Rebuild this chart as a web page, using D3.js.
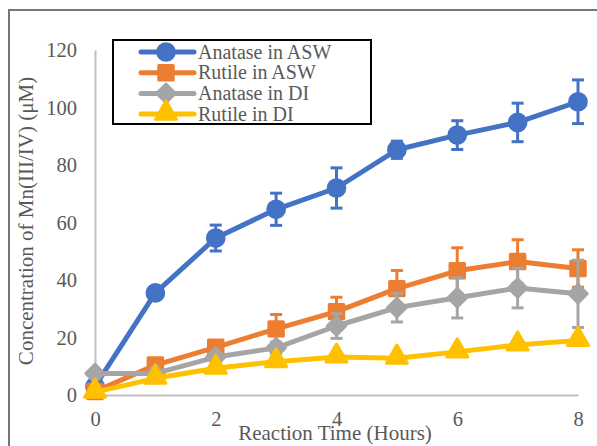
<!DOCTYPE html>
<html>
<head>
<meta charset="utf-8">
<script src="https://cdnjs.cloudflare.com/ajax/libs/d3/7.8.5/d3.min.js"></script>
<style>
    html, body { margin: 0; padding: 0; background: #fff; }
    svg text { font-family: "Liberation Serif", "Times New Roman", serif; fill: #595959; }
</style>
</head>
<body>
<div class="chart-container"></div>
<script>
const hours = [0, 1, 2, 3, 4, 5, 6, 7, 8];
const xTicks = [0, 2, 4, 6, 8];
const yTicks = [0, 20, 40, 60, 80, 100, 120];

const seriesNames = ['Anatase in ASW', 'Rutile in ASW', 'Anatase in DI', 'Rutile in DI'];
const seriesColors = ['#4472C4', '#ED7D31', '#A5A5A5', '#FFC000'];
const seriesSymbols = ['circle', 'square', 'diamond', 'triangle'];

const anataseASW = [3, 35.5, 54.6, 64.6, 72, 85.3, 90.4, 94.8, 102];
const anataseASWErr = [0, 1, 4.5, 5.6, 7, 3, 5, 6.7, 7.6];
const rutileASW = [1.2, 10.4, 16.6, 23, 29, 37, 43.2, 46.4, 44];
const rutileASWErr = [0, 1, 1.5, 5, 5, 6.3, 8, 7.6, 6.5];
const anataseDI = [7.5, 7.5, 13.2, 16.4, 24, 30.4, 33.8, 37.2, 35.2];
const anataseDIErr = [0, 1, 1.5, 2, 4.3, 5, 7, 6.9, 11.7];
const rutileDI = [1, 5.8, 9.3, 11.6, 13.2, 12.8, 15, 17.4, 19];
const rutileDIErr = [0, 0.5, 0.5, 0.5, 0.5, 0.5, 0.5, 0.5, 0.5];

const seriesValues = [anataseASW, rutileASW, anataseDI, rutileDI];
const seriesErrors = [anataseASWErr, rutileASWErr, anataseDIErr, rutileDIErr];

const width = 597;
const height = 446;
const margin = { left: 95, right: 19, top: 50, bottom: 51 };

const svg = d3.select('.chart-container').append('svg')
    .attr('width', width)
    .attr('height', height);

// outer frame (runs off the right/bottom edges)
svg.append('rect')
    .attr('x', 9).attr('y', 10)
    .attr('width', width + 10).attr('height', height + 10)
    .attr('fill', '#fff')
    .attr('stroke', '#767676')
    .attr('stroke-width', 2);

const x = d3.scaleLinear().domain([0, 8]).range([margin.left, width - margin.right]);
const y = d3.scaleLinear().domain([0, 120]).range([height - margin.bottom, margin.top]);

const xAxis = svg.append('g')
    .attr('transform', 'translate(0,' + y(0) + ')')
    .call(d3.axisBottom(x).tickValues(xTicks).tickSize(0).tickPadding(16).tickFormat(d3.format('d')));
const yAxis = svg.append('g')
    .attr('transform', 'translate(' + x(0) + ',0)')
    .call(d3.axisLeft(y).tickValues(yTicks).tickSize(0).tickPadding(18).tickFormat(d3.format('d')));

[xAxis, yAxis].forEach((axis) => {
    axis.attr('font-family', '"Liberation Serif", serif');
    axis.select('.domain').attr('stroke', '#bfbfbf').attr('stroke-width', 2);
    axis.selectAll('text').attr('font-size', '20.5px').attr('fill', '#595959');
});

svg.append('text')
    .attr('x', 335).attr('y', 440)
    .attr('text-anchor', 'middle')
    .attr('font-size', '21px')
    .text('Reaction Time (Hours)');

svg.append('text')
    .attr('transform', 'translate(33,221) rotate(-90)')
    .attr('text-anchor', 'middle')
    .attr('font-size', '21px')
    .text('Concentration of Mn(III/IV) (μM)');

function markerPath(kind) {
    if (kind === 'circle') { return d3.symbol(d3.symbolCircle, 220)(); }
    if (kind === 'square') { return d3.symbol(d3.symbolSquare, 210)(); }
    if (kind === 'diamond') { return d3.symbol(d3.symbolSquare, 170)(); }
    return d3.symbol(d3.symbolTriangle, 190)();
}
function markerTransform(kind, px, py) {
    if (kind === 'diamond') { return 'translate(' + px + ',' + py + ') rotate(45)'; }
    if (kind === 'triangle') { return 'translate(' + px + ',' + (py - 1) + ')'; }
    return 'translate(' + px + ',' + py + ')';
}

const line = d3.line().x((d) => x(d.h)).y((d) => y(d.v));

seriesValues.forEach((values, i) => {
    const color = seriesColors[i];
    const errs = seriesErrors[i];
    const points = hours.map((h, j) => ({ h: h, v: values[j], e: errs[j] }));
    const g = svg.append('g').attr('class', 'series-' + i);

    const eb = g.selectAll('.err').data(points.filter((d) => d.e > 0)).enter().append('g');
    eb.append('line')
        .attr('x1', (d) => x(d.h)).attr('x2', (d) => x(d.h))
        .attr('y1', (d) => y(d.v - d.e)).attr('y2', (d) => y(d.v + d.e))
        .attr('stroke', color).attr('stroke-width', 3);
    [-1, 1].forEach((s) => {
        eb.append('line')
            .attr('x1', (d) => x(d.h) - 6).attr('x2', (d) => x(d.h) + 6)
            .attr('y1', (d) => y(d.v + s * d.e)).attr('y2', (d) => y(d.v + s * d.e))
            .attr('stroke', color).attr('stroke-width', 3);
    });

    g.append('path')
        .datum(points)
        .attr('d', line)
        .attr('fill', 'none')
        .attr('stroke', color)
        .attr('stroke-width', 5)
        .attr('stroke-linejoin', 'round');

    g.selectAll('.mk').data(points).enter().append('path')
        .attr('d', markerPath(seriesSymbols[i]))
        .attr('transform', (d) => markerTransform(seriesSymbols[i], x(d.h), y(d.v)))
        .attr('fill', color)
        .attr('stroke', color)
        .attr('stroke-width', 3)
        .attr('stroke-linejoin', 'round');
});

// legend
const legend = svg.append('g');
legend.append('rect')
    .attr('x', 113).attr('y', 40)
    .attr('width', 258).attr('height', 84)
    .attr('fill', '#fff')
    .attr('stroke', '#000')
    .attr('stroke-width', 2);

seriesNames.forEach((name, i) => {
    const ly = 52 + i * 20.7;
    legend.append('line')
        .attr('x1', 141).attr('x2', 194)
        .attr('y1', ly).attr('y2', ly)
        .attr('stroke', seriesColors[i]).attr('stroke-width', 5)
        .attr('stroke-linecap', 'round');
    legend.append('path')
        .attr('d', markerPath(seriesSymbols[i]))
        .attr('transform', markerTransform(seriesSymbols[i], 166, ly))
        .attr('fill', seriesColors[i])
        .attr('stroke', seriesColors[i])
        .attr('stroke-width', 3)
        .attr('stroke-linejoin', 'round');
    legend.append('text')
        .attr('x', 198).attr('y', ly + 6.5)
        .attr('font-size', '20px')
        .text(name);
});
</script>
</body>
</html>
